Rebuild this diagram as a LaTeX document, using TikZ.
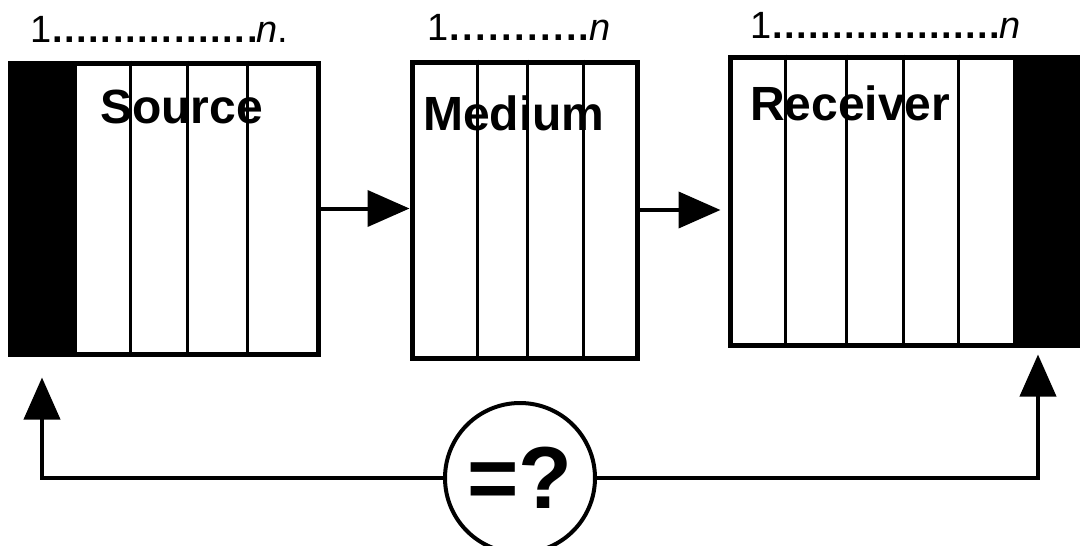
\documentclass[tikz,border=0pt]{standalone}
\usepackage{fontspec}
\setmainfont{Liberation Sans}
\usetikzlibrary{arrows.meta}
\newcommand{\dotrow}[2]{\hbox to #1{1\xleaders\hbox to 12pt{\hss\textbf{.}\hss}\hfill\kern-2pt#2}}
\begin{document}
\begin{tikzpicture}[x=1pt,y=-1pt,
  unitbox/.style={draw,line width=5pt,rectangle,inner sep=0pt},
  divider/.style={line width=3pt},
  boxlabel/.style={anchor=base west,inner sep=0pt,font=\fontsize{48}{50}\selectfont\bfseries},
  idxlabel/.style={anchor=base west,inner sep=0pt,font=\fontsize{38}{40}\selectfont},
  flow/.style={line width=4pt,-{Triangle[length=42pt,width=36pt]}},
  cmpnode/.style={draw,circle,line width=4pt,minimum size=150pt,inner sep=0pt,
    font=\fontsize{88}{90}\selectfont\bfseries}]
\useasboundingbox (0,0) rectangle (1080,546);

% the three units
\node[unitbox,minimum width=308pt,minimum height=291pt] (src) at (164,208.5) {};
\node[unitbox,minimum width=225pt,minimum height=296pt] (med) at (524.5,210) {};
\node[unitbox,minimum width=350pt,minimum height=288pt] (rcv) at (905,201) {};

% solid end blocks
\fill (src.north west) rectangle (77,0 |- src.south);
\fill (1013,0 |- rcv.north) rectangle (rcv.south east);

% cell dividers
\foreach \x in {130,187,247}
  \draw[divider] (\x,0 |- src.north) -- (\x,0 |- src.south);
\foreach \x in {477,527,583}
  \draw[divider] (\x,0 |- med.north) -- (\x,0 |- med.south);
\foreach \x in {785,846,903,958}
  \draw[divider] (\x,0 |- rcv.north) -- (\x,0 |- rcv.south);

% unit names
\node[boxlabel] (srcname) at (100,123) {Source};
\node[boxlabel] (medname) at (423,130) {Medium};
\node[boxlabel] (rcvname) at (750,120) {Receiver};

% index ranges
\node[idxlabel] (srcidx) at (30,42) {\dotrow{258pt}{\textit{n}.}};
\node[idxlabel] (medidx) at (427,40) {\dotrow{183pt}{\textit{n}}};
\node[idxlabel] (rcvidx) at (750,38) {\dotrow{270pt}{\textit{n}}};

% forward flow
\draw[flow] (src.east) -- (src.east -| med.west);
\draw[flow,shorten >=7pt] (med.east) -- (med.east -| rcv.west);

% comparison
\node[cmpnode] (cmp) at (520,478) {=?};
\coordinate (srcfb) at (42,0 |- src.south);
\coordinate (rcvfb) at (1038,0 |- rcv.south);
\draw[flow,shorten >=21pt] (cmp.west) -| (srcfb);
\draw[flow,shorten >=7pt] (cmp.east) -| (rcvfb);
\end{tikzpicture}
\end{document}
